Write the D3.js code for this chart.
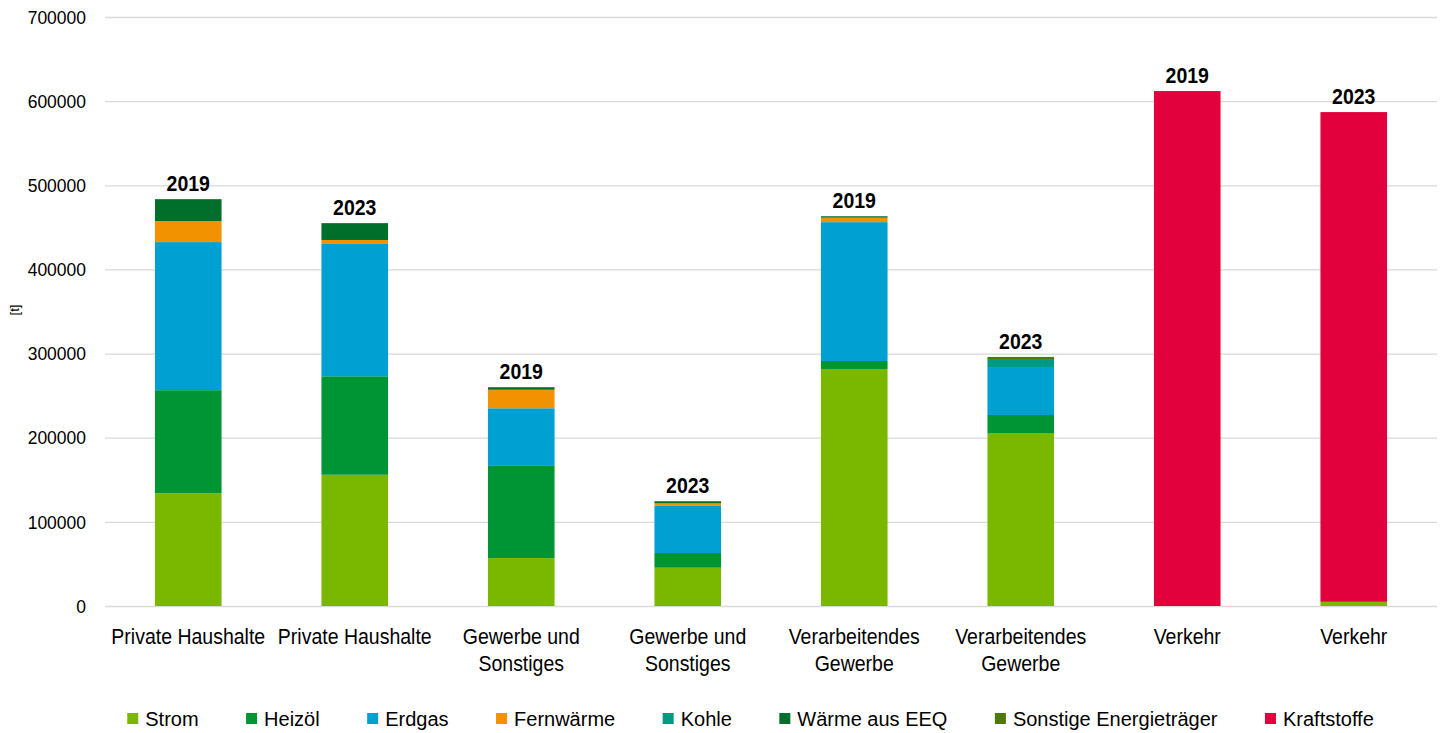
<!DOCTYPE html>
<html>
<head>
<meta charset="utf-8">
<script src="https://cdn.jsdelivr.net/npm/d3@7"></script>
<style>
  body { margin: 0; background: #fff; }
  svg { font-family: "Liberation Sans", Arial, sans-serif; }
</style>
</head>
<body>
<svg id="chart" width="1443" height="733"></svg>
<script>
// categories and years (one bar each)
var categories = [
  ["Private Haushalte"], ["Private Haushalte"],
  ["Gewerbe und", "Sonstiges"], ["Gewerbe und", "Sonstiges"],
  ["Verarbeitendes", "Gewerbe"], ["Verarbeitendes", "Gewerbe"],
  ["Verkehr"], ["Verkehr"]
];
var years = ["2019", "2023", "2019", "2023", "2019", "2023", "2019", "2023"];

// series values [t]
var strom       = [134000, 156000, 57000, 45500, 281700, 205000, 0, 5000];
var heizoel     = [122500, 117000, 109500, 17500, 9500, 22000, 0, 0];
var erdgas      = [176000, 158000, 68500, 56000, 165000, 57000, 0, 0];
var fernwaerme  = [25000, 4000, 22000, 3000, 5000, 0, 0, 0];
var kohle       = [0, 0, 0, 0, 1000, 9500, 0, 0];
var eeq         = [26000, 20000, 3000, 2500, 1000, 0, 0, 0];
var sonstige    = [0, 0, 0, 0, 0, 2500, 0, 0];
var kraftstoffe = [0, 0, 0, 0, 0, 0, 612000, 582000];

var yTicks = [0, 100000, 200000, 300000, 400000, 500000, 600000, 700000];

var seriesNames = ["Strom", "Heizöl", "Erdgas", "Fernwärme", "Kohle", "Wärme aus EEQ", "Sonstige Energieträger", "Kraftstoffe"];
var seriesValues = [strom, heizoel, erdgas, fernwaerme, kohle, eeq, sonstige, kraftstoffe];
var colors = ["#7ab800", "#009534", "#00a1d2", "#f39200", "#009a84", "#006f2b", "#4f7a00", "#e2003d"];

var svg = d3.select("#chart"),
  margin = {top: 17, right: 6, bottom: 127, left: 105},
  width = 1443 - margin.left - margin.right,
  height = 733 - margin.top - margin.bottom;

var g = svg.append("g")
  .attr("transform", "translate(" + margin.left + "," + margin.top + ")");

// build rows for stack
var data = years.map(function(yr, i) {
  var row = {idx: i};
  seriesNames.forEach(function(k, j) { row[k] = seriesValues[j][i]; });
  return row;
});

var x = d3.scaleBand().domain(d3.range(years.length)).range([0, width]).paddingInner(0.6).paddingOuter(0.3);
var y = d3.scaleLinear().domain([0, 700000]).range([height, 0]);
var color = d3.scaleOrdinal().domain(seriesNames).range(colors);

// grid + tick labels
var yAxis = g.append("g")
  .attr("class", "axis axis--y")
  .call(d3.axisLeft(y).tickValues(yTicks).tickSize(-width).tickPadding(19).tickFormat(d3.format("d")));
yAxis.select(".domain").remove();
yAxis.selectAll("line").attr("stroke", "#d9d9d9").attr("stroke-width", 1.3);
yAxis.selectAll("text")
  .style("font-size", "17.5px")
  .attr("fill", "#000")
  .attr("transform", "scale(1,1.1)");

var stack = d3.stack().keys(seriesNames);

var layer = g.selectAll(".layer")
  .data(stack(data))
  .enter().append("g")
  .attr("class", "layer")
  .attr("fill", function(d) { return color(d.key); });

layer.selectAll("rect")
  .data(function(d) { return d; })
  .enter().append("rect")
  .attr("x", function(d) { return x(d.data.idx); })
  .attr("width", x.bandwidth())
  .attr("y", function(d) { return y(d[1]); })
  .attr("height", function(d) { return y(d[0]) - y(d[1]); });

// year labels above bars
g.selectAll(".year")
  .data(data)
  .enter().append("text")
  .attr("class", "year")
  .attr("transform", function(d) {
    var total = d3.sum(seriesNames, function(k) { return d[k]; });
    return "translate(" + (x(d.idx) + x.bandwidth() / 2) + "," + (y(total) - 8) + ") scale(1,1.1)";
  })
  .attr("text-anchor", "middle")
  .style("font-size", "19.5px")
  .style("font-weight", "bold")
  .text(function(d, i) { return years[i]; });

// category labels
var cat = g.selectAll(".cat")
  .data(categories)
  .enter().append("text")
  .attr("class", "cat")
  .attr("text-anchor", "middle")
  .attr("transform", function(d, i) { return "translate(" + (x(i) + x.bandwidth() / 2) + "," + (height + 38) + ") scale(1,1.1)"; })
  .style("font-size", "19.5px");
cat.selectAll("tspan")
  .data(function(d) { return d; })
  .enter().append("tspan")
  .attr("x", 0)
  .attr("dy", function(d, i) { return i ? 24.5 : 0; })
  .text(function(d) { return d; });

// y axis title
svg.append("text")
  .attr("transform", "translate(19,310) rotate(-90)")
  .attr("text-anchor", "middle")
  .style("font-size", "13px")
  .text("[t]");

// legend
var legend = svg.append("g").attr("class", "legend");
var items = legend.selectAll("g")
  .data(seriesNames)
  .enter().append("g");
items.append("rect")
  .attr("width", 11).attr("height", 11)
  .attr("y", -6)
  .attr("fill", function(d) { return color(d); });
items.append("text")
  .attr("x", 18)
  .attr("y", 6.5)
  .style("font-size", "20px")
  .text(function(d) { return d; });

var gap = 47.5, offset = 0;
items.each(function() {
  var w = d3.select(this).select("text").node().getComputedTextLength();
  d3.select(this).attr("transform", "translate(" + offset + ",0)");
  offset += 18 + w + gap;
});
offset -= gap;
legend.attr("transform", "translate(" + (750.5 - offset / 2) + ",719)");
</script>
</body>
</html>
